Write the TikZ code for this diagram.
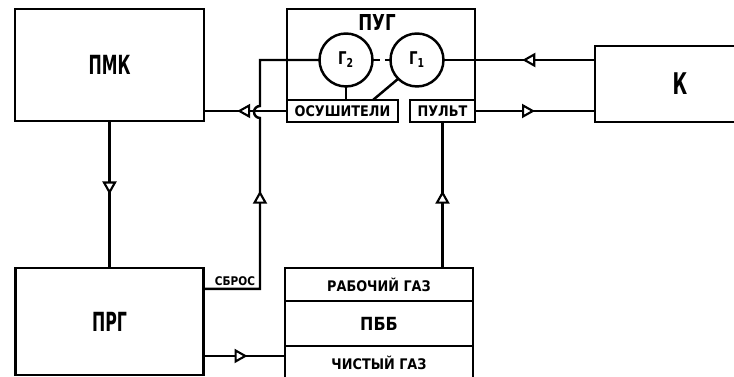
\documentclass[tikz,border=0pt]{standalone}
\usepackage{fontspec}
\setmainfont{DejaVu Sans Bold}
\newfontfamily\narrowfont{DejaVu Sans Bold}[FakeStretch=0.6]
\newfontfamily\midfont{DejaVu Sans Bold}[FakeStretch=0.76]
\newfontfamily\labelfont{DejaVu Sans Bold}[FakeStretch=0.88]
\usetikzlibrary{positioning,calc,arrows.meta,decorations.markings}

\begin{document}
\begin{tikzpicture}[x=0.02cm, y=-0.02cm, line width=1.4pt,
  flow/.style={postaction={decorate}, decoration={markings,
    mark=at position #1 with {\arrow{Triangle[fill=white, length=2.6mm, width=2.8mm, line width=1.2pt]}}}}]
    \tikzstyle{block} = [draw, rectangle, inner sep=0pt, outer sep=0pt]
    \tikzstyle{unit} = [draw, circle, minimum size=1.06cm, inner sep=0pt, outer sep=0pt]
    \tikzstyle{big} = [font=\narrowfont\fontsize{15}{17}\selectfont]
    \tikzstyle{small} = [font=\labelfont\fontsize{8.3}{10}\selectfont]
	\useasboundingbox (0,0) rectangle (734,377);
	\clip (0,0) rectangle (734,377);

	% left column
	\node[block, big, minimum width=3.78cm, minimum height=2.24cm] (pmk) at (109.5,65) {ПМК};
	\node[block, big, minimum width=3.76cm, minimum height=2.14cm, below=2.94cm of pmk] (prg) {ПРГ};

	% ПУГ
	\node[minimum width=3.76cm, minimum height=2.26cm, inner sep=0pt, outer sep=0pt] (pug) at (381,65.5) {};
	\draw (pug.south west) -- (pug.north west) -- (pug.north east) -- (pug.south east);
	\node[font=\midfont\fontsize{12.5}{14}\selectfont] (pugl) at (377,23) {ПУГ};
	\node[unit, font=\midfont\fontsize{10}{12}\selectfont] (g2) at (346,60) {Г\textsubscript{2}};
	\node[unit, font=\midfont\fontsize{10}{12}\selectfont, right=0.36cm of g2] (g1) {Г\textsubscript{1}};
	\node[block, small, minimum width=2.22cm, minimum height=0.44cm] (osu) at (342.5,111) {ОСУШИТЕЛИ};
	\node[block, small, minimum width=1.3cm, minimum height=0.44cm] (pult) at (442.5,111) {ПУЛЬТ};

	% K
	\node[block, font=\narrowfont\fontsize{17}{19}\selectfont, minimum width=3.4cm, minimum height=1.52cm] (k) at (680,84) {К};

	% ПББ
	\node[block, small, minimum width=3.76cm, minimum height=0.66cm] (rab) at (379,284.5) {РАБОЧИЙ ГАЗ};
	\node[block, font=\labelfont\fontsize{10.3}{12}\selectfont, minimum width=3.76cm, minimum height=0.9cm, below=0pt of rab] (pbb) {ПББ};
	\node[block, small, minimum width=3.76cm, minimum height=0.68cm, below=0pt of pbb] (chist) {ЧИСТЫЙ ГАЗ};

	% connectors
	\draw[flow=0.5] (pmk.south) -- (prg.north);
	\draw[flow=0.6] (osu.west) -- (osu.west -| pmk.east);

	\coordinate (sb) at ($(prg.north east)+(0,21)$);
	\coordinate (hop) at (260,112);
	\node[font=\labelfont\fontsize{6.8}{8}\selectfont] (sbl) at (235,281) {СБРОС};
	\draw[flow=0.44] (sb) -- (sb -| hop) -- ($(hop)+(0,6)$)
		arc[start angle=270, end angle=90, radius=0.12cm]
		-- (hop |- g2.west) -- (g2.west);

	\draw[flow=0.48] (g1.east -| k.west) -- (g1.east);
	\draw[flow=0.5] (pult.east) -- (pult.east -| k.west);
	\draw[flow=0.53] (pult.south |- rab.north) -- (pult.south);

	\coordinate (cg) at ($(chist.west)+(0,-7)$);
	\draw[flow=0.54] (cg -| prg.east) -- (cg);

	% inside ПУГ
	\draw[dash pattern=on 4pt off 3pt] (g2.east) -- (g1.west);
	\draw (g2.south) -- (g2.south |- osu.north);
	\draw (g1.south west) -- ($(osu.north east)+(-25,0)$);

\end{tikzpicture}
\end{document}
